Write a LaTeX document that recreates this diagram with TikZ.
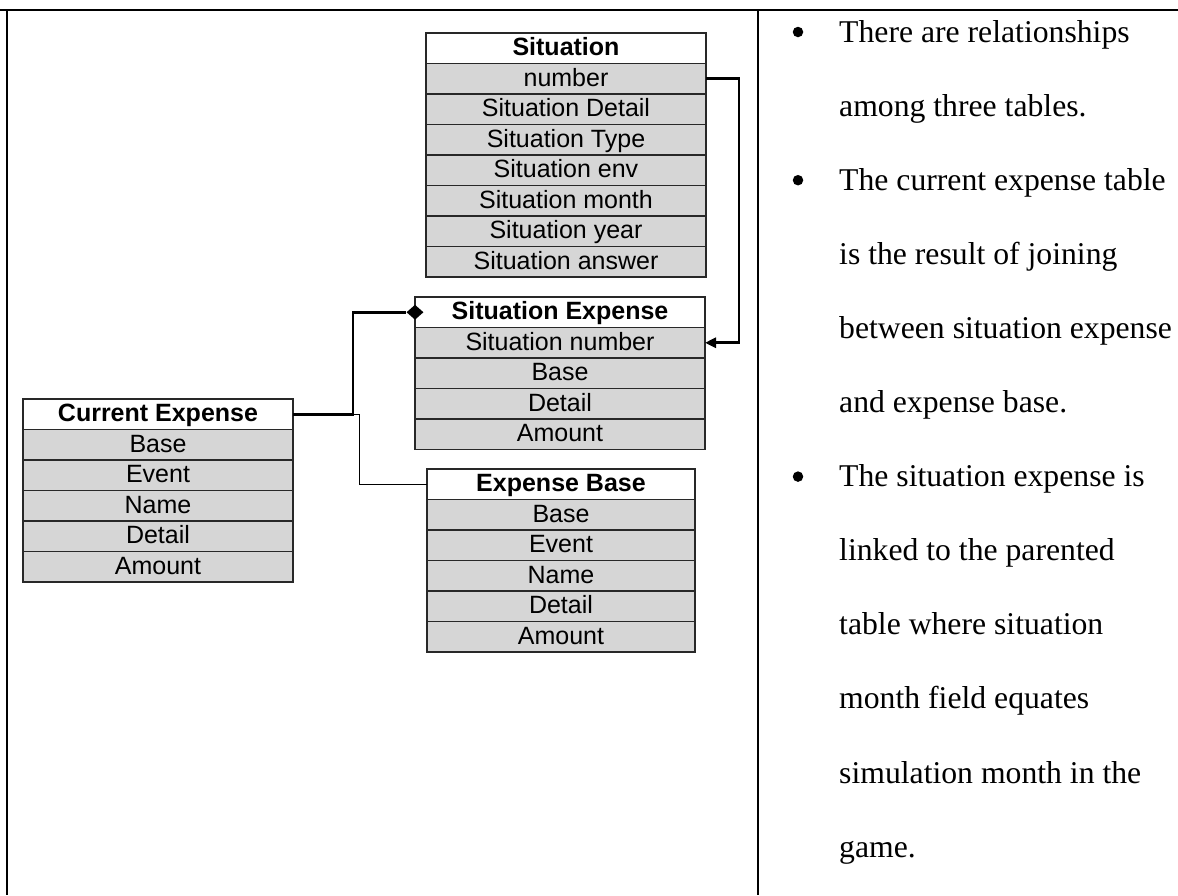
\documentclass[tikz,border=0pt]{standalone}
\usepackage{fontspec}
\setmainfont{Liberation Serif}
\newfontfamily\tablefont{Liberation Sans}
\usetikzlibrary{arrows.meta,shapes.geometric}
\definecolor{rowgray}{RGB}{214,214,214}
\definecolor{cellline}{RGB}{40,40,40}

% one entity table: prefix, centre x, top y, width, title, fields
\newcommand\dbtable[6]{%
  \node[hdr, minimum width=#4] (#1-0) at (#2,#3) {#5};
  \foreach \f [count=\i] in {#6} {%
    \node[fld, minimum width=#4] (#1-\i) at (#2,#3+30.5*\i) {\f};}%
}

\begin{document}
\begin{tikzpicture}[x=1pt,y=-1pt,
  cell/.style={draw=cellline, line width=1.1pt, minimum height=30.5pt,
    inner sep=0pt, outer sep=0pt, anchor=north,
    text height=19.5pt, text depth=4.5pt},
  hdr/.style={cell, fill=white, font=\tablefont\bfseries\fontsize{25}{25}\selectfont},
  fld/.style={cell, fill=rowgray, font=\tablefont\fontsize{25}{25}\selectfont},
  frame/.style={line width=2.2pt},
  thickrel/.style={line width=2.8pt},
  thinrel/.style={line width=1pt},
  bul/.style={circle, fill=black, inner sep=0pt, minimum size=10.5pt},
  note/.style={anchor=base west, inner sep=0pt, font=\fontsize{31.7}{31.7}\selectfont}]
\useasboundingbox (0,0) rectangle (1178,895);

% page frame
\draw[line width=2.6pt] (0,10) -- (1178,10);
\draw[frame] (7,10) -- (7,895);
\draw[frame] (758,10) -- (758,895);

% entity tables
\dbtable{sit}{566}{33}{280}{Situation}{number,Situation Detail,Situation Type,Situation env,Situation month,Situation year,Situation answer}
\dbtable{se}{560}{297}{290}{Situation Expense}{Situation number,Base,Detail,Amount}
\dbtable{ce}{158}{399}{270}{Current Expense}{Base,Event,Name,Detail,Amount}
\dbtable{eb}{561}{469}{268}{Expense Base}{Base,Event,Name,Detail,Amount}

% bends of the relationship lines
\coordinate (j1) at (353,0);
\coordinate (j2) at (359,0);
\coordinate (j3) at (739,0);

% Current Expense -> Expense Base
\draw[thinrel] (ce-0.east) -- (ce-0.east -| j2) |- (eb-0.west);
% Current Expense -> Situation Expense (aggregation)
\node[diamond, fill=black, inner sep=0pt, minimum width=17pt, minimum height=15pt] (dia) at (se-0.west) {};
\draw[thickrel] (ce-0.east) -- (ce-0.east -| j1) |- (dia.west);
% Situation number -> Situation Expense
\draw[thickrel, -{Triangle[length=11pt,width=10pt]}]
  (sit-1.east) -- (sit-1.east -| j3) |- (se-1.east);

% notes column
\node[bul] (b1) at (798,32) {};
\node[bul] (b2) at (798,180.2) {};
\node[bul] (b3) at (798,476.6) {};
\node[note] (t0) at (839,42) {There are relationships};
\node[note] (t1) at (839,116.1) {among three tables.};
\node[note] (t2) at (839,190.2) {The current expense table};
\node[note] (t3) at (839,264.3) {is the result of joining};
\node[note] (t4) at (839,338.4) {between situation expense};
\node[note] (t5) at (839,412.5) {and expense base.};
\node[note] (t6) at (839,486.6) {The situation expense is};
\node[note] (t7) at (839,560.7) {linked to the parented};
\node[note] (t8) at (839,634.8) {table where situation};
\node[note] (t9) at (839,708.9) {month field equates};
\node[note] (t10) at (839,783) {simulation month in the};
\node[note] (t11) at (839,857.1) {game.};
\end{tikzpicture}
\end{document}
